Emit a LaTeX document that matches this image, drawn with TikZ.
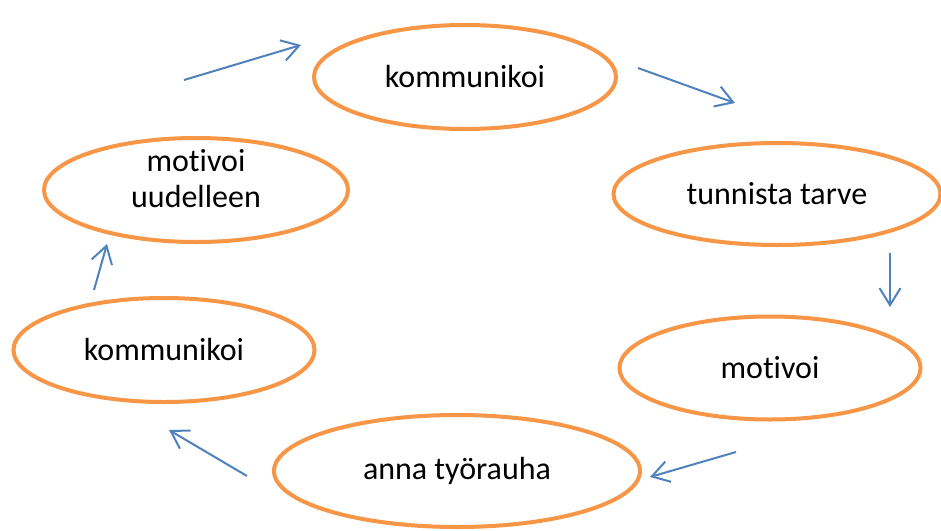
\documentclass[tikz,border=0pt]{standalone}
\usepackage{fontspec}
\setmainfont[Ligatures={NoCommon}]{Carlito}
\usetikzlibrary{shapes.geometric,arrows.meta}
\definecolor{ringorange}{HTML}{F79646}
\definecolor{flowblue}{HTML}{4F81BD}
% keep "t" and "i" as separate letters
\newcommand{\motword}{mot\kern0pt ivoi}
\tikzset{
  stagefont/.style={font=\fontsize{32}{36}\selectfont, align=center},
  stage/.style={ellipse, draw=ringorange, line width=4pt, fill=white,
    inner sep=0pt, stagefont},
  flow/.style={draw=flowblue, line width=2pt,
    -{Straight Barb[length=17pt,width=21pt,line width=2pt]}}
}
\begin{document}
\begin{tikzpicture}[x=1pt,y=-1pt]
\useasboundingbox (0,0) rectangle (941,530);
% the six stages of the cycle
\node[stage, minimum width=302pt, minimum height=104pt] (k1) at (465,77) {kommunikoi};
\node[stage, minimum width=327pt, minimum height=102pt] (tt) at (777,194) {tunnista tarve};
\node[stage, minimum width=301pt, minimum height=103pt] (mo) at (770,368) {\motword};
\node[stage, minimum width=366pt, minimum height=112pt] (at) at (457,471) {anna työrauha};
\node[stage, minimum width=301pt, minimum height=104pt] (k2) at (164,350) {kommunikoi};
\node[stage, minimum width=304pt, minimum height=104pt] (mu) at (196,190) {};
\node[stagefont] (mutext) at ([yshift=11pt]mu.center) {\motword\\uudelleen};
% arrow end points between the stages
\coordinate (a1s) at (184,80);  \coordinate (a1e) at (301,45);
\coordinate (a2s) at (638,68);  \coordinate (a2e) at (735,103);
\coordinate (a3s) at (890,253); \coordinate (a3e) at (890,307);
\coordinate (a4s) at (736,452); \coordinate (a4e) at (650,477);
\coordinate (a5s) at (247,476); \coordinate (a5e) at (169,430);
\coordinate (a6s) at (94,290);  \coordinate (a6e) at (107,244);
\draw[flow] (a1s) -- (a1e);
\draw[flow] (a2s) -- (a2e);
\draw[flow] (a3s) -- (a3e);
\draw[flow] (a4s) -- (a4e);
\draw[flow] (a5s) -- (a5e);
\draw[flow] (a6s) -- (a6e);
\end{tikzpicture}
\end{document}
